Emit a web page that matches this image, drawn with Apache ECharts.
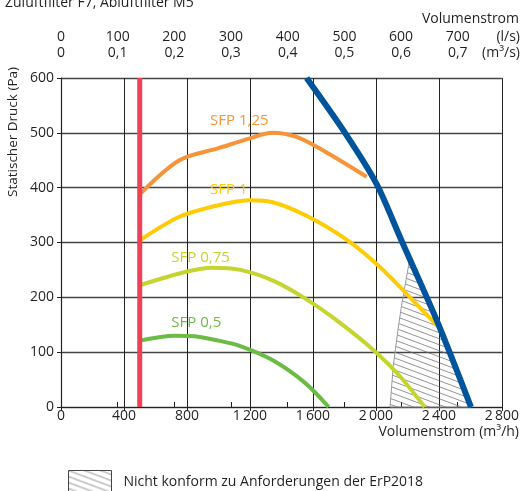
<!DOCTYPE html>
<html><head><meta charset="utf-8">
<script src="https://cdn.jsdelivr.net/npm/echarts@6/dist/echarts.min.js"></script>
<style>html,body{margin:0;padding:0;background:#fff}#c{width:522px;height:491px}</style>
</head><body><div id="c"></div>
<script>
// ---- data (x: Volumenstrom m³/h, y: statischer Druck Pa) ----
const xTicksM3h = [0, 400, 800, 1200, 1600, 2000, 2400, 2800];
const yTicksPa = [0, 100, 200, 300, 400, 500, 600];
const topTicksLs = [0, 100, 200, 300, 400, 500, 600, 700];
const sfp125 = [[500,388],[752,450],[1000,472],[1200,490],[1340,500],[1500,492],[1700,462],[1941,420]];
const sfp100 = [[500,304],[752,347],[1000,368],[1200,377],[1350,373],[1550,350],[1800,308],[2000,262],[2200,205],[2394,147]];
const sfp075 = [[500,222],[800,247],[960,254],[1140,250],[1350,230],[1550,198],[1760,156],[2000,100],[2150,57],[2310,0]];
const sfp050 = [[500,121],[720,130],[850,129],[1000,121],[1130,112],[1340,86],[1550,44],[1700,0]];
const maxCurve = [[1560,600],[1804,500],[2004,407],[2162,304],[2215,270],[2394,153],[2604,0]];
const minFlow = [[500,0],[500,600]];
const hatchLeft = [[2090,0],[2110,74],[2140,140],[2162,183],[2215,270]];
const hatchRight = [[2215,270],[2394,153],[2604,0]];
const sfpNames = ['SFP 1,25', 'SFP 1', 'SFP 0,75', 'SFP 0,5'];
const sfpLabelAt = [[947,522],[947,397],[701,273],[701,153]];
const legendName = 'Nicht konform zu Anforderungen der ErP2018';

const FONT = '"Open Sans", sans-serif';
const TXT = '#231f20';
const colors = { o:'#f7943a', y:'#ffcb05', lg:'#c4d52f', g:'#6cbb45', b:'#00549c', r:'#ef4058' };

function hatchPattern(){
  const c = document.createElement('canvas'); c.width = 16; c.height = 6;
  const g = c.getContext('2d'); g.strokeStyle = '#666'; g.lineWidth = 0.7;
  for (const dy of [-6, 0, 6]) { g.beginPath(); g.moveTo(0, dy); g.lineTo(16, dy + 6); g.stroke(); }
  return c;
}
const pat = { image: hatchPattern(), repeat: 'repeat' };

function fmtThousands(v){
  if (v < 1000) return String(v);
  return Math.floor(v/1000) + '\u2009' + String(v % 1000).padStart(3, '0');
}

function curve(name, data, color, lbl, width){
  return {
    type:'line', name, data, smooth:0.3, symbol:'none', z:3,
    lineStyle:{ color, width: width || 4 }, itemStyle:{ color },
    markPoint: lbl ? { symbol:'circle', symbolSize:0, silent:true,
      data:[{ coord: lbl, label:{ show:true, position:'right', distance:0, formatter:name,
        color, fontSize:15, fontFamily:FONT } }] } : undefined
  };
}

const chart = echarts.init(document.getElementById('c'));
chart.setOption({
  animation:false,
  textStyle:{ fontFamily:FONT },
  title:{ text:'Zuluftfilter F7, Abluftfilter M5', left:0, top:-9,
    textStyle:{ fontSize:14, fontWeight:'normal', color:TXT, fontFamily:FONT } },
  grid:{ left:61, top:78, width:443, height:329, containLabel:false },
  legend:{ left:63, top:465, itemWidth:43, itemHeight:24, selectedMode:false,
    data:[{ name:legendName, icon:'rect', itemStyle:{ color:pat, borderColor:'#444', borderWidth:1 } }],
    textStyle:{ fontSize:14, color:TXT, fontFamily:FONT, padding:[0,0,0,7] } },
  xAxis:[
    { type:'value', position:'bottom', min:0, max:2800, interval:400,
      axisLine:{ show:true, onZero:false, lineStyle:{ color:'#222', width:1.2 } },
      axisTick:{ show:true, length:4, lineStyle:{ color:'#222' } },
      axisLabel:{ margin:2, fontSize:14, color:TXT, fontFamily:FONT, formatter:fmtThousands },
      splitLine:{ show:true, lineStyle:{ color:'#222', width:1 } } },
    { type:'value', position:'top', min:0, max:2800/3.6,
      axisLine:{ show:true, lineStyle:{ color:'#222', width:1.2 } },
      axisTick:{ show:true, length:5, customValues:topTicksLs, lineStyle:{ color:'#222' } },
      axisLabel:{ margin:17, fontSize:14, color:TXT, fontFamily:FONT, lineHeight:16,
        customValues:topTicksLs,
        formatter: v => v + '\n' + (v === 0 ? '0' : (v/1000).toFixed(1).replace('.', ',')) },
      splitLine:{ show:false } }
  ],
  yAxis:{ type:'value', min:0, max:600, interval:100,
    axisLine:{ show:true, lineStyle:{ color:'#222', width:1.2 } },
    axisTick:{ show:true, length:4, lineStyle:{ color:'#222' } },
    axisLabel:{ margin:7, fontSize:14, color:TXT, fontFamily:FONT },
    splitLine:{ show:true, lineStyle:{ color:'#444', width:1.4 } } },
  graphic:[
    { type:'text', x:519, y:19, style:{ text:'Volumenstrom', align:'right', verticalAlign:'middle', fontSize:14, fontFamily:FONT, fill:TXT } },
    { type:'text', x:520, y:37, style:{ text:'(l/s)', align:'right', verticalAlign:'middle', fontSize:14, fontFamily:FONT, fill:TXT } },
    { type:'text', x:520, y:53, style:{ text:'(m³/s)', align:'right', verticalAlign:'middle', fontSize:14, fontFamily:FONT, fill:TXT } },
    { type:'text', x:519, y:432, style:{ text:'Volumenstrom (m³/h)', align:'right', verticalAlign:'middle', fontSize:14, fontFamily:FONT, fill:TXT } },
    { type:'text', x:13, y:132, rotation:Math.PI/2, style:{ text:'Statischer Druck (Pa)', align:'center', verticalAlign:'middle', fontSize:13.5, fontFamily:FONT, fill:TXT } }
  ],
  series:[
    { type:'custom', name:legendName, data:[[0,0]], z:1, silent:true,
      itemStyle:{ color:pat },
      renderItem:(params, api) => ({
        type:'polygon',
        shape:{ points: hatchLeft.concat(hatchRight.slice(1)).map(p => api.coord(p)) },
        style:{ fill:pat, stroke:'#999', lineWidth:1 }
      }) },
    curve(sfpNames[0], sfp125, colors.o, sfpLabelAt[0]),
    curve(sfpNames[1], sfp100, colors.y, sfpLabelAt[1]),
    curve(sfpNames[2], sfp075, colors.lg, sfpLabelAt[2]),
    curve(sfpNames[3], sfp050, colors.g, sfpLabelAt[3]),
    { type:'line', name:'max', data:maxCurve, smooth:0.3, symbol:'none', z:4, clip:true,
      lineStyle:{ color:colors.b, width:6 } },
    { type:'line', name:'min', data:minFlow, symbol:'none', z:5,
      lineStyle:{ color:colors.r, width:5 } }
  ]
});
</script></body></html>
